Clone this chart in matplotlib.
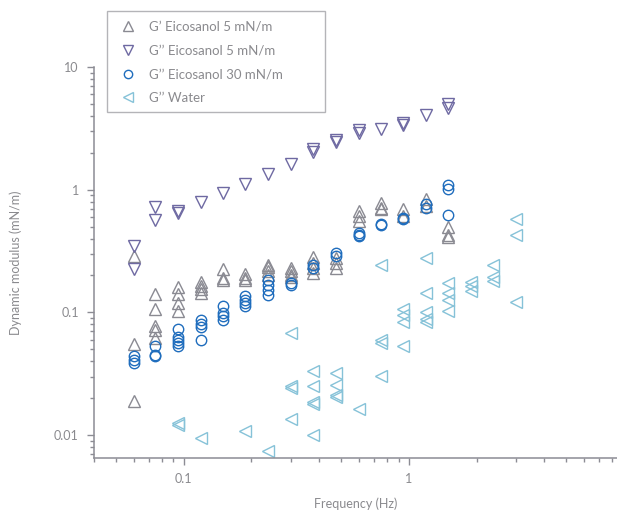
import matplotlib
matplotlib.use("Agg")
import matplotlib.pyplot as plt
from matplotlib.patches import Rectangle
from matplotlib.ticker import LogLocator, NullFormatter
import numpy as np

plt.rcParams["font.family"] = ["Lato", "DejaVu Sans"]

GREY_TXT = "#8a8a8e"
AXIS_COL = "#8c8c94"

LABELS = ["G\u2019 Eicosanol 5 mN/m", "G\u2019\u2019 Eicosanol 5 mN/m",
          "G\u2019\u2019 Eicosanol 30 mN/m", "G\u2019\u2019 Water"]
COLORS = ["#8a8a92", "#6e69a2", "#1f6dbd", "#86c2d8"]
MARKERS = ["^", "v", "o", "<"]

# G' eicosanol 5 mN/m
gp5_freq = [0.06, 0.06, 0.06,
            0.075, 0.075, 0.075, 0.075, 0.075,
            0.094, 0.094, 0.094, 0.094,
            0.119, 0.119, 0.119, 0.119,
            0.15, 0.15, 0.15,
            0.188, 0.188, 0.188,
            0.237, 0.237, 0.237, 0.237,
            0.3, 0.3, 0.3, 0.3,
            0.376, 0.376, 0.376, 0.376,
            0.473, 0.473, 0.473,
            0.6, 0.6, 0.6,
            0.75, 0.75, 0.75,
            0.94, 0.94,
            1.19, 1.19,
            1.5, 1.5, 1.5]
gp5_mod = [0.286, 0.055, 0.019,
           0.14, 0.106, 0.077, 0.072, 0.062,
           0.16, 0.142, 0.12, 0.103,
           0.178, 0.165, 0.155, 0.145,
           0.225, 0.19, 0.185,
           0.206, 0.19, 0.185,
           0.244, 0.234, 0.216, 0.202,
           0.232, 0.216, 0.203, 0.195,
           0.284, 0.252, 0.23, 0.21,
           0.277, 0.252, 0.23,
           0.674, 0.606, 0.551,
           0.778, 0.709, 0.69,
           0.70, 0.606,
           0.845, 0.73,
           0.50, 0.43, 0.41]

# G'' eicosanol 5 mN/m
gpp5_freq = [0.06, 0.06, 0.075, 0.075, 0.094, 0.094, 0.119, 0.15, 0.188,
             0.237, 0.3, 0.376, 0.376, 0.473, 0.473, 0.6, 0.6, 0.75,
             0.94, 0.94, 1.19, 1.5, 1.5]
gpp5_mod = [0.349, 0.225, 0.717, 0.569, 0.67, 0.65, 0.79, 0.94, 1.12,
            1.35, 1.62, 2.15, 2.02, 2.56, 2.45, 3.05, 2.88, 3.13,
            3.5, 3.35, 4.1, 4.95, 4.6]

# G'' eicosanol 30 mN/m
gpp30_freq = [0.06, 0.06, 0.06,
              0.075, 0.075, 0.075,
              0.094, 0.094, 0.094, 0.094, 0.094,
              0.119, 0.119, 0.119, 0.119,
              0.15, 0.15, 0.15, 0.15,
              0.188, 0.188, 0.188, 0.188,
              0.237, 0.237, 0.237, 0.237,
              0.3, 0.3,
              0.376, 0.376,
              0.473, 0.473,
              0.6, 0.6, 0.6,
              0.75, 0.75,
              0.94, 0.94,
              1.19, 1.19,
              1.5, 1.5, 1.5]
gpp30_mod = [0.044, 0.041, 0.039,
             0.053, 0.045, 0.044,
             0.073, 0.063, 0.06, 0.056, 0.053,
             0.086, 0.08, 0.076, 0.059,
             0.113, 0.098, 0.094, 0.087,
             0.136, 0.127, 0.119, 0.112,
             0.184, 0.168, 0.153, 0.139,
             0.175, 0.168,
             0.244, 0.232,
             0.305, 0.29,
             0.443, 0.43, 0.42,
             0.53, 0.515,
             0.59, 0.575,
             0.77, 0.71,
             1.1, 1.01, 0.62]

# G'' water
water_freq = [0.094, 0.094, 0.119, 0.188, 0.237,
              0.3, 0.3, 0.3, 0.3,
              0.376, 0.376, 0.376, 0.376, 0.376,
              0.473, 0.473, 0.473, 0.473,
              0.6,
              0.75, 0.75, 0.75, 0.75,
              0.94, 0.94, 0.94, 0.94,
              1.19, 1.19, 1.19, 1.19, 1.19,
              1.5, 1.5, 1.5, 1.5,
              1.88, 1.88, 1.88,
              2.37, 2.37, 2.37,
              3.0, 3.0, 3.0]
water_mod = [0.0125, 0.0121, 0.0094, 0.0108, 0.0074,
             0.0676, 0.0253, 0.024, 0.0135,
             0.033, 0.025, 0.0187, 0.018, 0.00995,
             0.032, 0.0256, 0.0214, 0.0205,
             0.0162,
             0.244, 0.0597, 0.0566, 0.0305,
             0.106, 0.0955, 0.0841, 0.0533,
             0.277, 0.145, 0.1016, 0.088, 0.084,
             0.173, 0.143, 0.127, 0.103,
             0.178, 0.163, 0.148,
             0.244, 0.194, 0.18,
             0.576, 0.43, 0.1225]

series = [(gp5_freq, gp5_mod), (gpp5_freq, gpp5_mod),
          (gpp30_freq, gpp30_mod), (water_freq, water_mod)]

fig = plt.figure(figsize=(6.17, 5.12), dpi=100)
ax = fig.add_axes([94 / 617, 54 / 512, 523 / 617, 391 / 512])

handles = []
for (f, m), lab, col, mk in zip(series, LABELS, COLORS, MARKERS):
    size = 7.5 if mk == "o" else 8.3
    h, = ax.plot(f, m, linestyle="none", marker=mk, markersize=size,
                 markerfacecolor="none", markeredgecolor=col,
                 markeredgewidth=1.0, label=lab)
    handles.append(h)

ax.set_xscale("log")
ax.set_yscale("log")
ax.set_xlim(0.04, 8.4)
ax.set_ylim(0.0065, 10)

ax.set_xticks([0.1, 1])
ax.set_xticklabels(["0.1", "1"])
ax.set_yticks([0.01, 0.1, 1, 10])
ax.set_yticklabels(["0.01", "0.1", "1", "10"])
ax.xaxis.set_minor_locator(LogLocator(base=10, subs=np.arange(2, 10)))
ax.yaxis.set_minor_locator(LogLocator(base=10, subs=np.arange(2, 10)))
ax.xaxis.set_minor_formatter(NullFormatter())
ax.yaxis.set_minor_formatter(NullFormatter())

for side in ["top", "right"]:
    ax.spines[side].set_visible(False)
for side in ["left", "bottom"]:
    ax.spines[side].set_color(AXIS_COL)
    ax.spines[side].set_linewidth(1.1)

ax.tick_params(which="major", length=5, width=1.0, color=AXIS_COL,
               labelcolor=GREY_TXT, labelsize=9, pad=6)
ax.tick_params(which="minor", length=3, width=1.0, color=AXIS_COL)

ax.set_xlabel("Frequency (Hz)", color=GREY_TXT, fontsize=9)
ax.set_ylabel("Dynamic modulus (mN/m)", color=GREY_TXT, fontsize=9)
ax.xaxis.set_label_coords(0.5, -0.10)
ax.yaxis.set_label_coords(-0.138, 0.5)

# legend box sits partly above the plot area
fig.patches.append(Rectangle((107 / 617, 1 - 112 / 512), 218 / 617, 101 / 512,
                             transform=fig.transFigure, fill=False,
                             edgecolor="#b4b4b8", linewidth=1.0))
leg = fig.legend(handles=handles, loc="upper left",
                 bbox_to_anchor=(107 / 617, 1 - 13 / 512), frameon=False,
                 fontsize=9.5, borderpad=0.6, labelspacing=0.88,
                 handlelength=2.0, handletextpad=0.6, borderaxespad=0,
                 markerscale=0.8)
for t in leg.get_texts():
    t.set_color(GREY_TXT)

fig.savefig("out.png", dpi=100)
